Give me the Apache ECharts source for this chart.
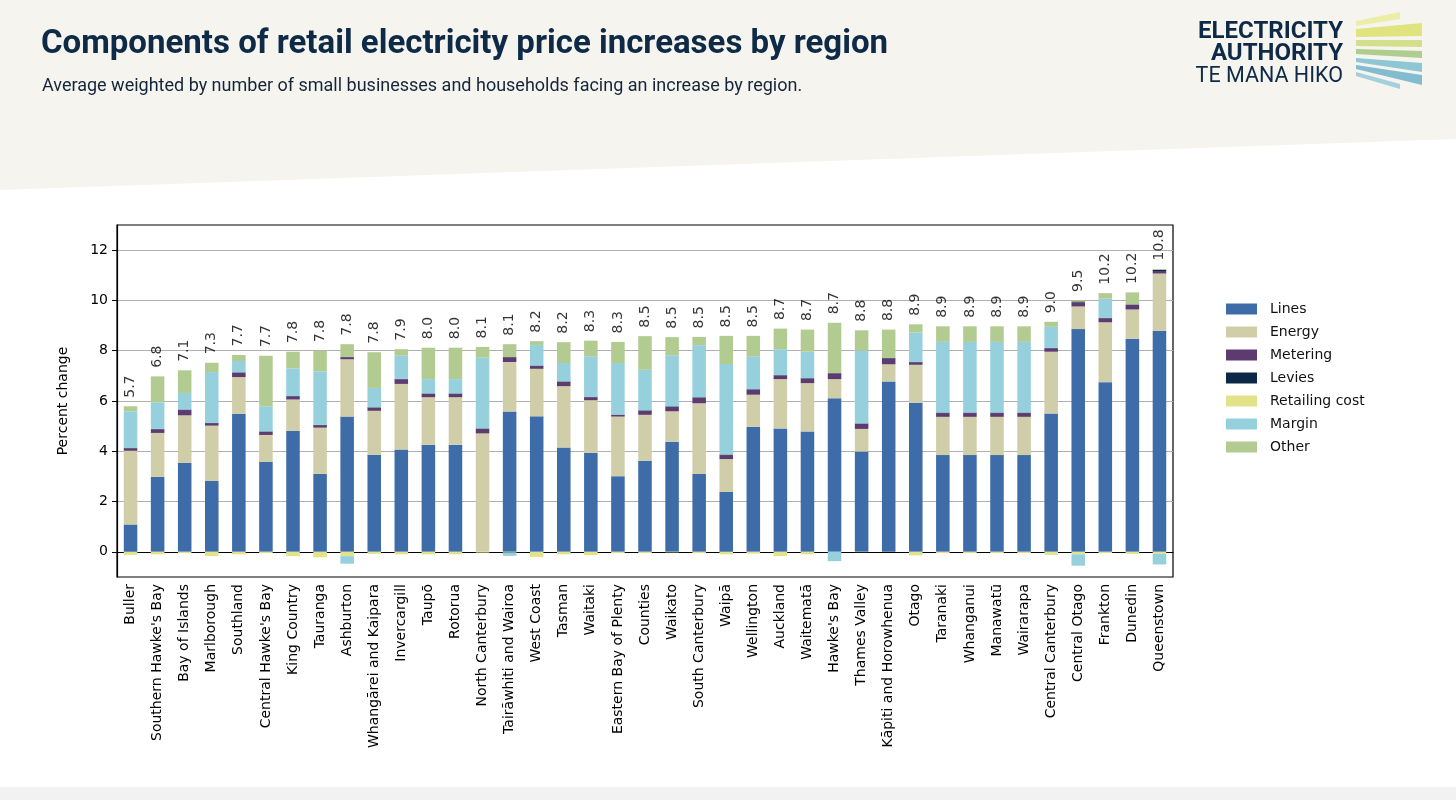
<!DOCTYPE html>
<html>
<head>
<meta charset="utf-8">
<script src="https://cdn.jsdelivr.net/npm/echarts@6/dist/echarts.min.js"></script>
<style>
html,body{margin:0;padding:0;background:#fff;}
#c{width:1456px;height:800px;}
</style>
</head>
<body>
<div id="c"></div>
<script>
const categories = ["Buller","Southern Hawke's Bay","Bay of Islands","Marlborough","Southland","Central Hawke's Bay","King Country","Tauranga","Ashburton","Whangārei and Kaipara","Invercargill","Taupō","Rotorua","North Canterbury","Tairāwhiti and Wairoa","West Coast","Tasman","Waitaki","Eastern Bay of Plenty","Counties","Waikato","South Canterbury","Waipā","Wellington","Auckland","Waitematā","Hawke's Bay","Thames Valley","Kāpiti and Horowhenua","Otago","Taranaki","Whanganui","Manawatū","Wairarapa","Central Canterbury","Central Otago","Frankton","Dunedin","Queenstown"];

const lines    = [1.09,2.98,3.54,2.82,5.49,3.58,4.81,3.10,5.38,3.86,4.07,4.26,4.26,0,5.58,5.39,4.15,3.94,3.01,3.62,4.38,3.10,2.38,4.97,4.91,4.79,6.11,3.99,6.78,5.93,3.85,3.85,3.85,3.85,5.50,8.86,6.75,8.48,8.79];
const energy   = [2.93,1.75,1.89,2.20,1.46,1.07,1.25,1.84,2.28,1.75,2.61,1.89,1.89,4.71,1.97,1.89,2.44,2.09,2.37,1.83,1.21,2.81,1.31,1.28,1.96,1.92,0.76,0.90,0.68,1.51,1.52,1.52,1.52,1.52,2.46,0.90,2.38,1.16,2.28];
const metering = [0.10,0.14,0.21,0.10,0.17,0.12,0.12,0.10,0.08,0.12,0.18,0.13,0.13,0.18,0.18,0.11,0.17,0.12,0.07,0.16,0.18,0.22,0.16,0.20,0.14,0.18,0.22,0.20,0.23,0.10,0.15,0.15,0.15,0.15,0.13,0.16,0.16,0.18,0.10];
const levies   = [0.01,0.02,0.02,0.01,0.02,0.02,0.02,0.01,0.01,0.02,0.02,0.02,0.02,0.02,0.02,0.02,0.02,0.02,0.01,0.02,0.02,0.02,0.02,0.02,0.02,0.02,0.02,0.02,0.02,0.02,0.02,0.02,0.02,0.02,0.02,0.04,0.02,0.02,0.05];
const retailing= [-0.12,-0.10,-0.05,-0.17,-0.10,-0.05,-0.17,-0.22,-0.17,-0.08,-0.10,-0.10,-0.10,-0.03,-0.02,-0.20,-0.10,-0.13,-0.05,-0.05,-0.02,-0.05,-0.10,-0.07,-0.17,-0.10,0,-0.01,0,-0.14,-0.05,-0.05,-0.05,-0.05,-0.12,-0.10,-0.05,-0.08,-0.08];
const margin   = [1.46,1.06,0.66,2.02,0.45,1.00,1.10,2.13,-0.30,0.77,0.92,0.57,0.57,2.81,-0.14,0.82,0.73,1.61,2.05,1.61,2.03,2.07,3.60,1.31,1.03,1.05,-0.37,2.89,0,1.16,2.81,2.81,2.81,2.81,0.84,-0.45,0.76,0,-0.42];
const other    = [0.20,1.03,0.90,0.37,0.24,2.01,0.66,0.82,0.51,1.42,0.26,1.25,1.25,0.43,0.51,0.15,0.83,0.62,0.84,1.34,0.72,0.33,1.12,0.81,0.82,0.88,2.00,0.81,1.13,0.33,0.62,0.62,0.62,0.62,0.20,0.04,0.22,0.48,0.03];
const totals   = ["5.7","6.8","7.1","7.3","7.7","7.7","7.8","7.8","7.8","7.8","7.9","8.0","8.0","8.1","8.1","8.2","8.2","8.3","8.3","8.5","8.5","8.5","8.5","8.5","8.7","8.7","8.7","8.8","8.8","8.9","8.9","8.9","8.9","8.9","9.0","9.5","10.2","10.2","10.8"];
const yTicks   = [0,2,4,6,8,10,12];

const seriesDefs = [
  {name:'Lines', data:lines, color:'#3e6ca8'},
  {name:'Energy', data:energy, color:'#cfcea8'},
  {name:'Metering', data:metering, color:'#5d3a70'},
  {name:'Levies', data:levies, color:'#0c2848'},
  {name:'Retailing cost', data:retailing, color:'#e2e389'},
  {name:'Margin', data:margin, color:'#95d0dc'},
  {name:'Other', data:other, color:'#b2cb91'}
];

const allSeries = [lines, energy, metering, levies, retailing, margin, other];
const posTop = categories.map((c,i)=>allSeries.reduce((s,a)=>s+(a[i]>0?a[i]:0),0));

const FONT = 'DejaVu Sans';
const chart = echarts.init(document.getElementById('c'), null, {renderer:'canvas'});

const series = seriesDefs.map(d=>({
  name:d.name, type:'bar', stack:'total', barWidth:'50%',
  data:d.data, itemStyle:{color:d.color}, emphasis:{disabled:true}
}));
series.push({
  name:'totals', type:'scatter', data:posTop, symbolSize:1,
  itemStyle:{color:'rgba(0,0,0,0)'}, silent:true, z:10,
  label:{show:true, position:'top', rotate:90, align:'left', verticalAlign:'middle', distance:8,
    fontFamily:FONT, fontSize:14, color:'#000',
    formatter:p=>totals[p.dataIndex]}
});

// header rays
const rays = [
  {c:'#eceea8', l:[21,26], r:[12,19], x2:1400},
  {c:'#dfe47f', l:[29,37], r:[23,36], x2:1422},
  {c:'#d3df8a', l:[40,46], r:[40,47], x2:1422},
  {c:'#aecd8e', l:[49,54], r:[51,58], x2:1422},
  {c:'#8fc6d4', l:[58,62], r:[63,72], x2:1422},
  {c:'#82bccf', l:[65,69], r:[75,85], x2:1422},
  {c:'#a3d0dc', l:[72,76], r:[84,89], x2:1400}
];
const rayGraphics = rays.map(r=>({
  type:'polygon', silent:true,
  shape:{points:[[1356,r.l[0]],[r.x2,r.r[0]],[r.x2,r.r[1]],[1356,r.l[1]]]},
  style:{fill:r.c}
}));

chart.setOption({
  backgroundColor:'#ffffff',
  animation:false,
  graphic:[
    {type:'polygon', silent:true, z:-10, shape:{points:[[0,0],[1456,0],[1456,139],[0,190]]}, style:{fill:'#f5f4ef'}},
    {type:'rect', silent:true, z:-10, shape:{x:0,y:787,width:1456,height:13}, style:{fill:'#f2f2f2'}},
    {type:'text', silent:true, left:41, top:28, style:{text:'Components of retail electricity price increases by region', fontFamily:'Roboto', fontWeight:'bold', fontSize:33, fill:'#0e2a47'}},
    {type:'text', silent:true, left:42, top:77, style:{text:'Average weighted by number of small businesses and households facing an increase by region.', fontFamily:'Roboto', fontSize:18, fill:'#14253a'}},
    {type:'text', silent:true, x:1343, y:32, style:{text:'ELECTRICITY', fontFamily:'Roboto', fontWeight:'bold', fontSize:24, fill:'#0e2a47', align:'right', verticalAlign:'middle'}},
    {type:'text', silent:true, x:1343, y:54, style:{text:'AUTHORITY', fontFamily:'Roboto', fontWeight:'bold', fontSize:24, fill:'#0e2a47', align:'right', verticalAlign:'middle'}},
    {type:'text', silent:true, x:1343, y:77, style:{text:'TE MANA HIKO', fontFamily:'Roboto', fontSize:21.5, fill:'#0e2a47', align:'right', verticalAlign:'middle'}}
  ].concat(rayGraphics),
  legend:{
    orient:'vertical', left:1226, top:301, padding:0,
    data:seriesDefs.map(d=>d.name),
    icon:'rect', itemWidth:31, itemHeight:11, itemGap:7,
    selectedMode:false,
    textStyle:{fontFamily:FONT, fontSize:14, color:'#111', lineHeight:16, padding:[0,0,0,8]}
  },
  grid:{left:117, top:225, width:1056, height:352, show:true, borderColor:'#000', borderWidth:1.2, backgroundColor:'#fff'},
  xAxis:{
    type:'category', data:categories,
    axisLine:{lineStyle:{color:'#000', width:1.2}},
    axisTick:{alignWithLabel:true, length:5, lineStyle:{color:'#000'}},
    axisLabel:{rotate:90, interval:0, fontFamily:FONT, fontSize:14, color:'#000', margin:7}
  },
  yAxis:{
    type:'value', min:-1, max:13,
    name:'Percent change', nameLocation:'middle', nameGap:47, nameRotate:90,
    nameTextStyle:{fontFamily:FONT, fontSize:14, color:'#000'},
    axisLine:{show:true, lineStyle:{color:'#000', width:1.2}},
    axisTick:{show:true, length:5, lineStyle:{color:'#000'}, customValues:yTicks},
    axisLabel:{fontFamily:FONT, fontSize:14, color:'#000', margin:9, customValues:yTicks},
    splitLine:{show:true, lineStyle:{color:'#b0b0b0', width:1.2}}
  },
  series:series
});
</script>
</body>
</html>
